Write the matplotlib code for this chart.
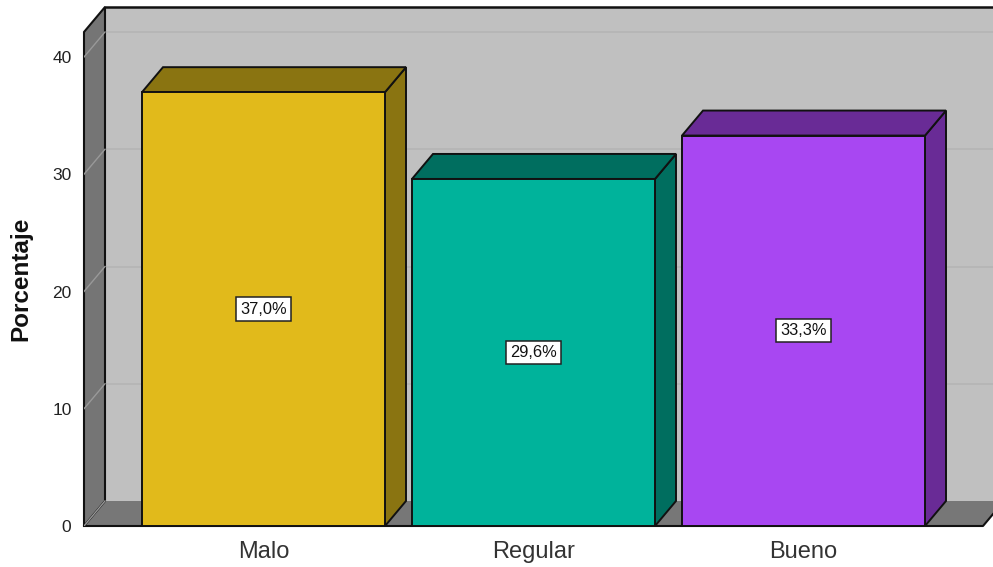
import matplotlib
matplotlib.use('Agg')
import matplotlib.pyplot as plt
from matplotlib.patches import Polygon, Rectangle

plt.rcParams['font.family'] = ['Liberation Sans', 'DejaVu Sans']

categories = ['Malo', 'Regular', 'Bueno']
values = [37.0, 29.6, 33.3]
labels = ['37,0%', '29,6%', '33,3%']
y_ticks = [0, 10, 20, 30, 40]

front_colors = ['#E1BA1B', '#00B39B', '#A847F2']
side_colors = ['#8A7411', '#006E5F', '#692B96']

W, H = 993, 567
# pixel scale of the front plane
px_x = 270.0
px_y = 11.725
bar_w = 243 / px_x
# 3d offset
dx = 21 / px_x
dy = 25 / px_y

fig = plt.figure(figsize=(W / 100, H / 100), dpi=100)
ax = fig.add_axes([84 / W, (H - 526) / H, (W - 84) / W, (526 - 7) / H])
x0 = (84 - 263.5) / px_x
x1 = (W - 263.5) / px_x
y1 = (526 - 7) / px_y
ax.set_xlim(x0, x1)
ax.set_ylim(0, y1)
ax.patch.set_visible(False)
for s in ax.spines.values():
    s.set_visible(False)

edge = '#111111'

# back wall, floor, left wall
ax.add_patch(Rectangle((x0 + dx, dy), x1 - x0, y1 - dy, fc='#C0C0C0', ec='none', zorder=1))
for t in y_ticks[1:]:
    ax.plot([x0 + dx, x1], [t + dy, t + dy], color='#B6B6B6', lw=1.3, zorder=1.5)
floor_r = x0 + (983 - 84) / px_x
ax.add_patch(Polygon([(x0, 0), (x0 + dx, dy), (x1 + 1, dy), (floor_r + dx, dy), (floor_r, 0)],
                     fc='#777777', ec='none', zorder=2))
ax.plot([x0, floor_r, floor_r + dx], [0, 0, dy], color=edge, lw=1.5, zorder=2.5, clip_on=False)
ax.add_patch(Polygon([(x0, 0), (x0 + dx, dy), (x0 + dx, y1), (x0, y1 - dy)],
                     fc='#757575', ec=edge, lw=1.5, zorder=3, clip_on=False))
for t in y_ticks:
    ax.plot([x0, x0 + dx], [t, t + dy], color='#999999', lw=1.0, zorder=3.5)
ax.plot([x0 + dx, x1], [y1, y1], color=edge, lw=1.8, zorder=3.5, clip_on=False)

# bars
for i, v in enumerate(values):
    l = i - bar_w / 2
    r = i + bar_w / 2
    z = 5 + i
    ax.add_patch(Polygon([(r, 0), (r + dx, dy), (r + dx, v + dy), (r, v)],
                         fc=side_colors[i], ec=edge, lw=1.4, zorder=z))
    ax.add_patch(Polygon([(l, v), (l + dx, v + dy), (r + dx, v + dy), (r, v)],
                         fc=side_colors[i], ec=edge, lw=1.4, zorder=z))
    ax.add_patch(Rectangle((l, 0), bar_w, v, fc=front_colors[i], ec=edge, lw=1.4, zorder=z + 0.1))
    ax.text(i, v / 2, labels[i], ha='center', va='center', fontsize=11.8, color='#111111', zorder=10,
            bbox=dict(boxstyle='square,pad=0.25', fc='white', ec='#222222', lw=1.1))

ax.set_xticks(range(len(categories)))
ax.set_xticklabels(categories, fontsize=17, color='#333333')
ax.set_yticks(y_ticks)
ax.set_yticklabels([str(t) for t in y_ticks], fontsize=12.5, color='#222222')
ax.tick_params(axis='x', length=0, pad=11)
ax.tick_params(axis='y', length=0, pad=9)
fig.text(21 / W, (H - 279) / H, 'Porcentaje', rotation=90, ha='center', va='center',
         fontsize=17.5, fontweight='bold', color='#111111')

fig.savefig('out.png', dpi=100)
